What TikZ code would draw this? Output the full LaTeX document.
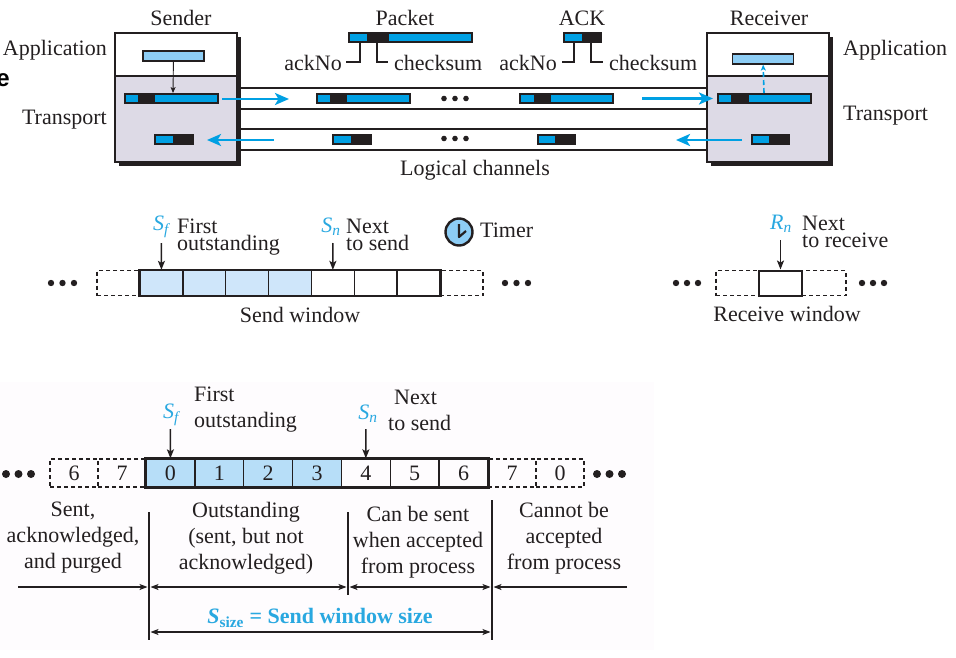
\documentclass[tikz,border=0pt]{standalone}
\usepackage{fontspec}
\setmainfont{Liberation Serif}
\newfontfamily\sansbold{Liberation Sans}
\usetikzlibrary{arrows.meta}
\definecolor{pblue}{RGB}{0,160,227}
\definecolor{appblue}{RGB}{141,205,245}
\definecolor{lblue}{RGB}{207,230,250}
\definecolor{cellblue}{RGB}{183,222,248}
\definecolor{tgray}{RGB}{221,218,230}
\definecolor{pblack}{RGB}{35,31,32}
\definecolor{tblue}{RGB}{41,168,224}
\definecolor{panel}{RGB}{254,252,254}
\newcommand\pkt[6]{%
  \fill[pblack] (#2,#6) rectangle (#5,#6+11);
  \fill[pblue] (#2+2,#6+2) rectangle (#3,#6+9);
  \fill[pblue] (#4,#6+2) rectangle (#5-2,#6+9);
  \coordinate (#1) at ({(#2+#5)/2},#6+5.5);}
\newcommand\ackpkt[5]{%
  \fill[pblack] (#2,#5) rectangle (#4,#5+11);
  \fill[pblue] (#2+2,#5+2) rectangle (#3,#5+9);
  \coordinate (#1) at ({(#2+#4)/2},#5+5.5);}
\newcommand\threedots[4]{%
  \foreach \ii in {0,1,2} \fill[pblack] (#1+\ii*#3,#2) circle (#4);}
\tikzset{
  txt/.style={font=\fontsize{22}{26}\selectfont, inner sep=0pt, text=pblack},
  tighttxt/.style={txt, font=\fontsize{22}{16.5}\selectfont, align=left, anchor=north west},
  bluetxt/.style={txt, text=tblue},
  boxline/.style={draw=pblack, line width=1.3pt},
  chan/.style={draw=pblack, line width=1.4pt},
  bluearrow/.style={draw=pblue, line width=2.8pt, -{Stealth[length=14pt,width=12pt,inset=3.5pt]}},
  blackarrow/.style={draw=pblack, line width=1.5pt, -{Stealth[length=9pt,width=7pt,inset=2pt]}},
  thinarrow/.style={draw=pblack, line width=0.9pt, -{Stealth[length=6pt,width=5pt,inset=1.5pt]}},
  dim/.style={draw=pblack, line width=1.1pt, {Stealth[length=8pt,width=6pt,inset=2pt]}-{Stealth[length=8pt,width=6pt,inset=2pt]}},
  dimr/.style={draw=pblack, line width=1.1pt, -{Stealth[length=8pt,width=6pt,inset=2pt]}},
  dashcell/.style={draw=pblack, line width=1.2pt, dash pattern=on 4pt off 3pt, minimum height=25pt, inner sep=0pt},
  cellbox/.style={draw=pblack, line width=1.3pt, minimum height=25pt, inner sep=0pt},
  appbar/.style={draw=pblack, line width=1.2pt, fill=appblue, inner sep=0pt, minimum width=61pt, minimum height=10pt},
  bracket/.style={draw=pblack, line width=1.2pt},
}
\begin{document}
\begin{tikzpicture}[x=1pt,y=-1pt]
\useasboundingbox (0,0) rectangle (956,658);
% faint panel behind the lower figure
\fill[panel] (0,382) rectangle (654,650);
% stray clipped letter at the left edge
\node[txt, anchor=mid east, font=\sansbold\bfseries\fontsize{24}{24}\selectfont, text=black] (stray) at (10,84) {e};

% ---------------- top: logical channels ----------------
\foreach \yy in {88,109,129,150} \draw[chan] (237,\yy) -- (707,\yy);

% sender box
\fill[pblack] (119,37) rectangle (241,166);
\fill[white] (115,33) rectangle (237,76);
\fill[tgray] (115,76) rectangle (237,162);
\draw[boxline] (115,33) rectangle (237,162);
\draw[boxline] (115,76) -- (237,76);
% receiver box
\fill[pblack] (711,37) rectangle (833,166);
\fill[white] (707,33) rectangle (829,76);
\fill[tgray] (707,76) rectangle (829,162);
\draw[boxline] (707,33) rectangle (829,162);
\draw[boxline] (707,76) -- (829,76);

\node[txt] (sender) at (181,18) {Sender};
\node[txt] (receiver) at (769,18) {Receiver};
\node[txt] (packetlbl) at (405,18) {Packet};
\node[txt] (acklbl) at (582,18) {ACK};
\node[txt, anchor=mid east] (sapplbl) at (107,53) {Application};
\node[txt, anchor=mid east] (stralbl) at (107,122) {Transport};
\node[txt, anchor=mid west] (rapplbl) at (843,53) {Application};
\node[txt, anchor=mid west] (rtralbl) at (843,118) {Transport};
\node[txt] (logical) at (475,170) {Logical channels};

% application bars
\node[appbar] (sapp) at (173.5,56) {};
\node[appbar] (rapp) at (763,59) {};

% packets
\pkt{spkt}{124}{138}{155}{219}{93}
\ackpkt{sack}{154}{173}{194}{134}
\pkt{rpkt}{717}{731}{749}{812}{93}
\ackpkt{rack}{751}{769}{790}{134}
\pkt{cpkt1}{316}{330}{347}{411}{93.5}
\pkt{cpkt2}{519}{534}{551}{614}{93.5}
\ackpkt{cack1}{332}{351}{372}{134}
\ackpkt{cack2}{537}{555}{576}{134}
\pkt{lpkt}{348}{367}{389}{473}{32.5}
\ackpkt{lack}{563}{582}{602}{32.5}
\threedots{444}{98.5}{11}{2.8}
\threedots{444}{138.5}{11}{2.8}

% brackets of the header labels
\draw[bracket] (360,43.5) -- (360,62) -- (346,62);
\draw[bracket] (377,43.5) -- (377,62) -- (388,62);
\draw[bracket] (574,43.5) -- (574,62) -- (562,62);
\draw[bracket] (591,43.5) -- (591,62) -- (603,62);
\node[txt, anchor=mid east] (ackno1) at (342,68) {ackNo};
\node[txt, anchor=mid west] (cks1) at (394,68) {checksum};
\node[txt, anchor=mid east] (ackno2) at (557,68) {ackNo};
\node[txt, anchor=mid west] (cks2) at (609,68) {checksum};

% arrows
\coordinate (spkttop) at (173,93);
\draw[thinarrow] (sapp) -- (spkttop);
\coordinate (rpkttop) at (764,93);
\draw[draw=pblue, line width=1.6pt, dash pattern=on 5pt off 3pt, -{Stealth[length=6pt,width=5pt,inset=1.5pt]}] (rpkttop) -- (rapp);
\coordinate (a1s) at (222,99); \coordinate (a1e) at (289,99);
\draw[bluearrow] (a1s) -- (a1e);
\coordinate (a2s) at (642,98.5); \coordinate (a2e) at (713,98.5);
\draw[bluearrow] (a2s) -- (a2e);
\coordinate (a3s) at (274,140); \coordinate (a3e) at (207,140);
\draw[bluearrow] (a3s) -- (a3e);
\coordinate (a4s) at (742,140); \coordinate (a4e) at (676,140);
\draw[bluearrow] (a4s) -- (a4e);

% ---------------- middle: send & receive windows ----------------
\node[dashcell, minimum width=43pt] (swl) at (118.5,283) {};
\node[dashcell, minimum width=43pt] (swr) at (461.5,283) {};
\foreach \i in {0,...,6} {
  \ifnum\i<4
    \node[cellbox, fill=lblue, minimum width=42.86pt] (sw\i) at ({140+42.857*(\i+0.5)},283) {};
  \else
    \node[cellbox, minimum width=42.86pt] (sw\i) at ({140+42.857*(\i+0.5)},283) {};
  \fi
}
\draw[draw=pblack, line width=2pt] (sw0.north west) rectangle (sw6.south east);
\threedots{51}{283}{11.5}{3.2}
\threedots{505}{283}{11.5}{3.2}
\node[txt] (swlbl) at (300,315) {Send window};

\node[bluetxt] (sf1) at (162,227) {\textit{S}\textsubscript{\textit{f}}};
\node[tighttxt] (firstout1) at (177,219) {First\\outstanding};
\node[bluetxt] (sn1) at (331,227) {\textit{S}\textsubscript{\textit{n}}};
\node[tighttxt] (nextsend1) at (346,219) {Next\\to send};
\coordinate (sfar) at (161.4,243);
\draw[blackarrow] (sfar) -- (sw0.north);
\coordinate (snar) at (332.9,243);
\draw[blackarrow] (snar) -- (sw4.north);

% timer
\node[draw=pblack, line width=2.4pt, fill=appblue, circle, minimum size=27pt, inner sep=0pt] (clock) at (459,232) {};
\draw[draw=pblack, line width=2.2pt, line join=round] (459,224) -- (459,237) -- (466,231);
\node[txt, anchor=mid west] (timer) at (480,235) {Timer};

% receive window
\node[dashcell, minimum width=43pt] (rwl) at (737.5,283) {};
\node[dashcell, minimum width=44pt] (rwr) at (824,283) {};
\node[cellbox, line width=2pt, minimum width=43pt] (rw) at (780.5,283) {};
\threedots{676}{283}{11}{3.2}
\threedots{862}{283}{11}{3.2}
\node[txt] (rwlbl) at (787,314) {Receive window};
\node[bluetxt] (rn) at (781,224) {\textit{R}\textsubscript{\textit{n}}};
\node[tighttxt] (nextrecv) at (802,216) {Next\\to receive};
\coordinate (rnar) at (780.5,240);
\draw[blackarrow] (rnar) -- (rw.north);

% ---------------- bottom: detailed send window ----------------
\tikzset{bcell/.style={cellbox, minimum height=28pt, minimum width=48.86pt}}
\node[txt, dashcell, minimum height=28pt, minimum width=48pt] (bd6) at (74,473) {6};
\node[txt, dashcell, minimum height=28pt, minimum width=48pt] (bd7) at (122,473) {7};
\foreach \i in {0,...,6} {
  \ifnum\i<4
    \node[txt, bcell, fill=cellblue] (bc\i) at ({146+48.857*(\i+0.5)},473) {\i};
  \else
    \node[txt, bcell] (bc\i) at ({146+48.857*(\i+0.5)},473) {\i};
  \fi
}
\node[txt, dashcell, minimum height=28pt, minimum width=48pt] (be7) at (512,473) {7};
\node[txt, dashcell, minimum height=28pt, minimum width=48pt] (be0) at (560,473) {0};
\draw[draw=pblack, line width=2.2pt] (bc0.north west) rectangle (bc6.south east);
\threedots{6}{474}{12.5}{4}
\threedots{597}{474}{12.5}{4}

\node[bluetxt] (sf2) at (172,415) {\textit{S}\textsubscript{\textit{f}}};
\node[txt, anchor=mid west] (first2) at (194,399) {First};
\node[txt, anchor=mid west] (outst2) at (194,425) {outstanding};
\node[bluetxt] (sn2) at (368,414) {\textit{S}\textsubscript{\textit{n}}};
\node[txt, anchor=mid west] (next3) at (394,402) {Next};
\node[txt, anchor=mid west] (tosend2) at (388,428) {to send};
\coordinate (sfar2) at (170.4,429);
\draw[blackarrow] (sfar2) -- (bc0.north);
\coordinate (snar2) at (365.9,429);
\draw[blackarrow] (snar2) -- (bc4.north);

\node[txt, align=center] (reg1) at (73,538) {Sent,\\acknowledged,\\and purged};
\node[txt, align=center] (reg2) at (246,538) {Outstanding\\(sent, but not\\acknowledged)};
\node[txt, align=center] (reg3) at (418,542) {Can be sent\\when accepted\\from process};
\node[txt, align=center] (reg4) at (564,538) {Cannot be\\accepted\\from process};

\coordinate (v1t) at (149,512); \coordinate (v1b) at (149,640);
\coordinate (v2t) at (348,512); \coordinate (v2b) at (348,595);
\coordinate (v3t) at (492,500); \coordinate (v3b) at (492,640);
\draw[draw=pblack, line width=1.1pt] (v1t) -- (v1b);
\draw[draw=pblack, line width=1.1pt] (v2t) -- (v2b);
\draw[draw=pblack, line width=1.1pt] (v3t) -- (v3b);
\coordinate (r0) at (18,587); \coordinate (r1) at (147.5,587);
\coordinate (r2) at (150.5,587); \coordinate (r3) at (346.5,587);
\coordinate (r4) at (349.5,587); \coordinate (r5) at (490.5,587);
\coordinate (r6) at (627,587); \coordinate (r7) at (493.5,587);
\draw[dimr] (r0) -- (r1);
\draw[dim] (r2) -- (r3);
\draw[dim] (r4) -- (r5);
\draw[dimr] (r6) -- (r7);
\coordinate (s1) at (150.5,632); \coordinate (s2) at (490.5,632);
\draw[dim] (s1) -- (s2);
\node[bluetxt, font=\fontsize{22}{26}\selectfont\bfseries] (ssize) at (320,618) {\textit{S}\textsubscript{size} = Send window size};
\end{tikzpicture}
\end{document}
